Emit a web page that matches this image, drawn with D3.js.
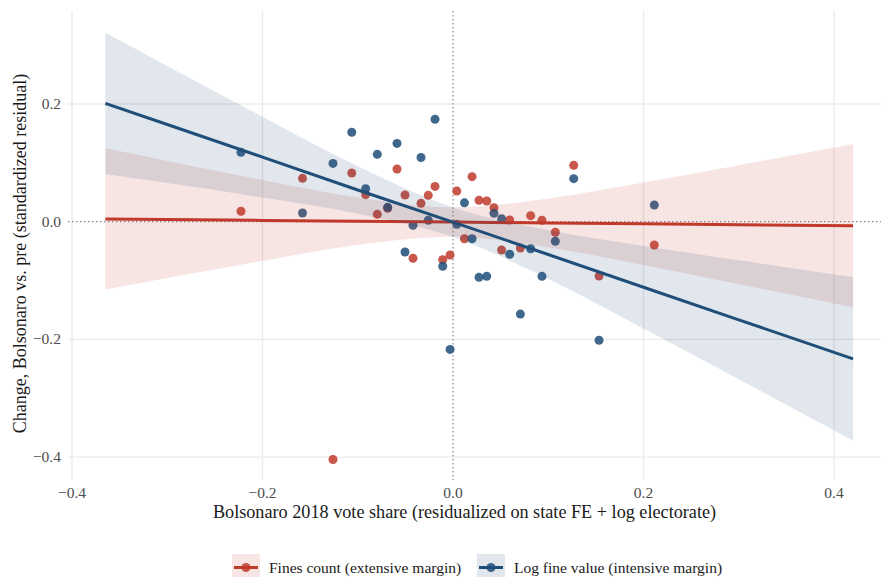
<!DOCTYPE html>
<html>
<head>
<meta charset="utf-8">
<script src="https://cdn.jsdelivr.net/npm/d3@7"></script>
<style>
  html, body { margin: 0; padding: 0; background: #fff; }
  svg { display: block; font-family: "Liberation Serif", "DejaVu Serif", serif; }
</style>
</head>
<body>
<svg id="chart" width="881" height="577"></svg>
<script>
// residualized Bolsonaro 2018 vote share, one entry per bin
const voteShare = [
  -0.2226, -0.158, -0.126, -0.1063, -0.0917, -0.0795, -0.0686, -0.0588,
  -0.0504, -0.042, -0.0336, -0.026, -0.0189, -0.0108, -0.0031, 0.004,
  0.012, 0.02, 0.0273, 0.0354, 0.043, 0.051, 0.0595, 0.0707,
  0.0815, 0.0934, 0.1074, 0.1267, 0.1533, 0.2113,
];

// fines count (extensive margin)
const finesCount = [
  0.0177, 0.0737, -0.404, 0.0827, 0.0459, 0.0125, 0.0227, 0.0895,
  0.0454, -0.0622, 0.0312, 0.0448, 0.06, -0.0646, -0.0566, 0.052,
  -0.029, 0.0765, 0.0363, 0.0352, 0.0238, -0.0481, 0.0029, -0.0447,
  0.0102, 0.0024, -0.018, 0.0958, -0.0923, -0.0396,
];

// log fine value (intensive margin)
const logFineValue = [
  0.118, 0.0148, 0.099, 0.152, 0.056, 0.1145, 0.0245, 0.133,
  -0.0515, -0.006, 0.109, 0.0024, 0.174, -0.0758, -0.217, -0.0044,
  0.032, -0.029, -0.0946, -0.0928, 0.0143, 0.005, -0.0554, -0.157,
  -0.0459, -0.0928, -0.0333, 0.0731, -0.2015, 0.0284,
];

// linear fits with 95% bands, read along the x range
const fitX = [-0.365, -0.3, -0.2, -0.1, 0, 0.1, 0.2, 0.3, 0.42];
const finesFit = [0.0046, 0.0037, 0.0022, 0.0008, -0.0007, -0.0022, -0.0036, -0.0051, -0.0068];
const finesLo = [-0.1154, -0.0958, -0.0665, -0.0395, -0.0257, -0.0437, -0.0737, -0.1061, -0.1457];
const finesHi = [0.1246, 0.1032, 0.0709, 0.0411, 0.0243, 0.0393, 0.0665, 0.0959, 0.1321];
const valueFit = [0.201, 0.1651, 0.1098, 0.0539, -0.0008, -0.0558, -0.1114, -0.1667, -0.233];
const valueLo = [0.081, 0.0656, 0.0411, 0.0136, -0.0258, -0.0973, -0.1815, -0.2677, -0.3719];
const valueHi = [0.321, 0.2646, 0.1785, 0.0942, 0.0242, -0.0143, -0.0413, -0.0657, -0.0941];

const xTicks = [-0.4, -0.2, 0, 0.2, 0.4];
const yTicks = [-0.4, -0.2, 0, 0.2];
const seriesNames = ['Fines count (extensive margin)', 'Log fine value (intensive margin)'];
const seriesColors = ['#c0392b', '#1f4e79'];

const MARGIN = { top: 11, right: 0, bottom: 97, left: 68 };
const WIDTH = 881;
const HEIGHT = 577;

const svg = d3.select('#chart');

const x = d3.scaleLinear()
  .domain([-0.4042, 0.4493])
  .range([MARGIN.left, WIDTH - MARGIN.right]);

const y = d3.scaleLinear()
  .domain([-0.4389, 0.358])
  .range([HEIGHT - MARGIN.bottom, MARGIN.top]);

const fmt = d3.format('.1f');

// grid
const grid = svg.append('g')
  .attr('stroke', '#ebebeb')
  .attr('stroke-width', 1.4);

grid.selectAll('line.v')
  .data(xTicks.filter((d) => d !== 0))
  .join('line')
  .attr('class', 'v')
  .attr('x1', (d) => x(d))
  .attr('x2', (d) => x(d))
  .attr('y1', y.range()[1])
  .attr('y2', y.range()[0]);

grid.selectAll('line.h')
  .data(yTicks.filter((d) => d !== 0))
  .join('line')
  .attr('class', 'h')
  .attr('x1', x.range()[0])
  .attr('x2', x.range()[1])
  .attr('y1', (d) => y(d))
  .attr('y2', (d) => y(d));

// zero reference lines
const zero = svg.append('g')
  .attr('stroke', '#8c8c8c')
  .attr('stroke-width', 1.2)
  .attr('stroke-dasharray', '1.5,2.5');

zero.append('line')
  .attr('x1', x.range()[0]).attr('x2', x.range()[1])
  .attr('y1', y(0)).attr('y2', y(0));

zero.append('line')
  .attr('x1', x(0)).attr('x2', x(0))
  .attr('y1', y.range()[1]).attr('y2', y.range()[0]);

// points
const series = [finesCount, logFineValue];

series.forEach((vals, i) => {
  svg.append('g')
    .selectAll('circle')
    .data(vals)
    .join('circle')
    .attr('cx', (d, j) => x(voteShare[j]))
    .attr('cy', (d) => y(d))
    .attr('r', 4.5)
    .attr('fill', seriesColors[i])
    .attr('fill-opacity', 0.85);
});

// ribbons + fit lines
const fits = [
  { fit: finesFit, lo: finesLo, hi: finesHi },
  { fit: valueFit, lo: valueLo, hi: valueHi },
];

const band = d3.area()
  .x((d) => x(d.x))
  .y0((d) => y(d.lo))
  .y1((d) => y(d.hi))
  .curve(d3.curveMonotoneX);

const fitLine = d3.line()
  .x((d) => x(d.x))
  .y((d) => y(d.fit));

fits.forEach((f, i) => {
  const rows = fitX.map((v, j) => ({ x: v, fit: f.fit[j], lo: f.lo[j], hi: f.hi[j] }));

  svg.append('path')
    .datum(rows)
    .attr('d', band)
    .attr('fill', seriesColors[i])
    .attr('fill-opacity', 0.135);

  svg.append('path')
    .datum(rows)
    .attr('d', fitLine)
    .attr('fill', 'none')
    .attr('stroke', seriesColors[i])
    .attr('stroke-width', 3);
});

// axis labels
svg.append('g')
  .selectAll('text')
  .data(xTicks)
  .join('text')
  .attr('x', (d) => x(d))
  .attr('y', 497.5)
  .attr('text-anchor', 'middle')
  .attr('fill', '#4d4d4d')
  .attr('font-size', 15.5)
  .text(fmt);

svg.append('g')
  .selectAll('text')
  .data(yTicks)
  .join('text')
  .attr('x', 61)
  .attr('y', (d) => y(d) + 5)
  .attr('text-anchor', 'end')
  .attr('fill', '#4d4d4d')
  .attr('font-size', 15.5)
  .text(fmt);

svg.append('text')
  .attr('x', (x.range()[0] + x.range()[1]) / 2 - 10)
  .attr('y', 518)
  .attr('text-anchor', 'middle')
  .attr('fill', '#1a1a1a')
  .attr('font-size', 18.2)
  .text('Bolsonaro 2018 vote share (residualized on state FE + log electorate)');

svg.append('text')
  .attr('transform', `translate(26,${(y.range()[0] + y.range()[1]) / 2 + 8}) rotate(-90)`)
  .attr('text-anchor', 'middle')
  .attr('fill', '#1a1a1a')
  .attr('font-size', 18)
  .text('Change, Bolsonaro vs. pre (standardized residual)');

// legend
const legendKeys = [232, 477];

seriesNames.forEach((name, i) => {
  const g = svg.append('g').attr('transform', `translate(${legendKeys[i]},554)`);

  g.append('rect')
    .attr('width', 28)
    .attr('height', 28)
    .attr('fill', seriesColors[i])
    .attr('fill-opacity', 0.135);

  g.append('line')
    .attr('x1', 2).attr('x2', 26)
    .attr('y1', 13.5).attr('y2', 13.5)
    .attr('stroke', seriesColors[i])
    .attr('stroke-width', 3);

  g.append('circle')
    .attr('cx', 14)
    .attr('cy', 13.5)
    .attr('r', 4.5)
    .attr('fill', seriesColors[i])
    .attr('fill-opacity', 0.85);

  g.append('text')
    .attr('x', 37)
    .attr('y', 18.5)
    .attr('fill', '#1a1a1a')
    .attr('font-size', 15.5)
    .text(name);
});
</script>
</body>
</html>
